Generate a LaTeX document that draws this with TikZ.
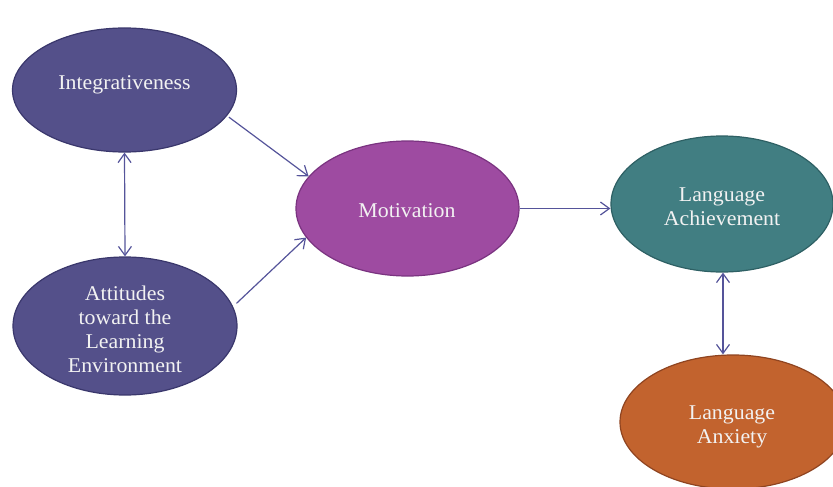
\documentclass[tikz,border=0pt]{standalone}
\usepackage{fontspec}
\setmainfont{Liberation Serif}[FakeStretch=1.04]
\usetikzlibrary{shapes.geometric,arrows.meta}
\definecolor{indigo}{HTML}{54508A}
\definecolor{indigoD}{HTML}{3A376C}
\definecolor{plum}{HTML}{9E4BA1}
\definecolor{plumD}{HTML}{7A3380}
\definecolor{tealc}{HTML}{417E82}
\definecolor{tealD}{HTML}{2E6064}
\definecolor{rust}{HTML}{C2632E}
\definecolor{rustD}{HTML}{8F4420}
\definecolor{arrowc}{HTML}{55549A}
\begin{document}
\begin{tikzpicture}[x=1pt,y=-1pt,
  bub/.style={ellipse, draw, line width=1.2pt, inner sep=0pt},
  lbl/.style={text=white!95!black, align=center, font=\fontsize{21}{24}\selectfont},
  conn/.style={draw=arrowc, line width=1.2pt, -{Straight Barb[length=9pt,width=13pt]}},
  dconn/.style={draw=arrowc, line width=1.2pt, {Straight Barb[length=9pt,width=13pt]}-{Straight Barb[length=9pt,width=13pt]}}]
\useasboundingbox (0,0) rectangle (833,487);
\node[bub, fill=indigo, draw=indigoD, minimum width=224pt, minimum height=124pt] (integ) at (124.5,90) {};
\node[lbl] (integT) at (124.5,85) {Integrativeness};
\node[bub, fill=indigo, draw=indigoD, minimum width=224pt, minimum height=138pt] (att) at (125,326) {};
\node[lbl] (attT) at (125,329) {Attitudes\\toward the\\Learning\\Environment};
\node[bub, fill=plum, draw=plumD, minimum width=223pt, minimum height=135pt] (mot) at (407.5,208.5) {};
\node[lbl] (motT) at (407,211) {Motivation};
\node[bub, fill=tealc, draw=tealD, minimum width=222pt, minimum height=136pt] (ach) at (722,204) {};
\node[lbl] (achT) at (722,207) {Language\\Achievement};
\node[bub, fill=rust, draw=rustD, minimum width=226pt, minimum height=134pt] (anx) at (733,422) {};
\node[lbl] (anxT) at (732,427) {Language\\Anxiety};
\draw[conn] ([shift={(3,0)}]integ.-15) -- (mot.162);
\draw[conn] ([shift={(5,0)}]att.12) -- (mot.-164);
\draw[dconn] (integ.south) -- (att.north);
\draw[conn] (mot.east) -- (ach.west |- mot.east);
\draw[dconn] ([xshift=1pt]ach.south) -- ([xshift=1pt]ach.south |- anx.north);
\end{tikzpicture}
\end{document}
